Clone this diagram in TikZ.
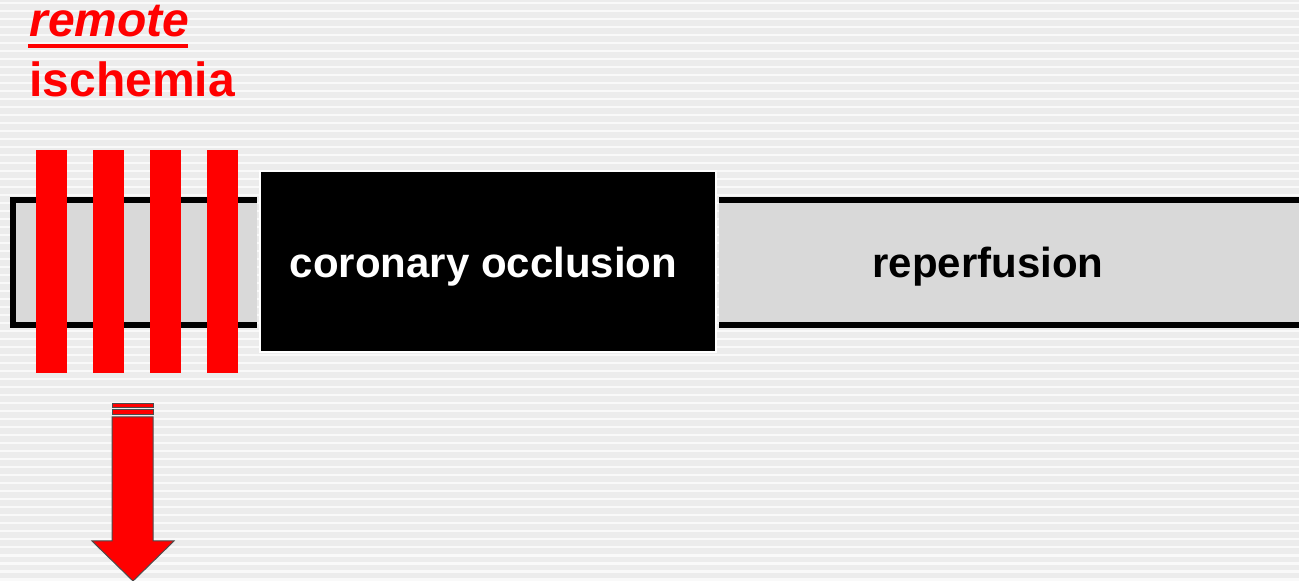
\documentclass[tikz,border=0pt]{standalone}
\usepackage{fontspec}
\setmainfont{Liberation Sans}
\definecolor{bgbase}{RGB}{236,236,236}
\definecolor{bgline}{RGB}{249,249,249}
\definecolor{bargray}{RGB}{217,217,217}
\definecolor{pulse}{RGB}{255,0,0}
\tikzset{
  timeline/.style={line width=3pt, draw=black},
  pulsebar/.style={fill=pulse, draw=none},
  redlabel/.style={text=pulse, font=\fontsize{24}{28}\selectfont\bfseries, inner sep=0pt, anchor=base west},
  phaselabel/.style={font=\fontsize{21}{25}\selectfont\bfseries, inner sep=0pt, anchor=base},
  arrowpart/.style={fill=pulse, draw=black!70, line width=0.5pt}
}
\begin{document}
\begin{tikzpicture}[x=0.5pt,y=-0.5pt]
  % striped slide background
  \fill[bgbase] (0,0) rectangle (1299,581);
  \foreach \yy in {2,10,...,578} {
    \fill[bgline] (0,\yy) rectangle (1299,\yy+2.5);
  }
  \useasboundingbox (0,0) rectangle (1299,581);

  % heading
  \node[redlabel] (remote) at (29,37) {\itshape remote};
  \fill[pulse] (28,44) rectangle (188,48.5);
  \node[redlabel] (ischemia) at (29,97) {ischemia};

  % timeline bar before the occlusion
  \fill[bargray] (13,200) rectangle (257,325);
  \draw[timeline] (257,200) -- (13,200) -- (13,325) -- (257,325);

  % timeline bar after the occlusion (reperfusion)
  \fill[bargray] (719,200) rectangle (1299,325);
  \draw[timeline] (719,200) -- (1299,200);
  \draw[timeline] (719,325) -- (1299,325);
  \node[phaselabel] (reperf) at (988,278) {reperfusion};

  % occlusion block
  \draw[fill=black, draw=white, line width=1pt] (260,171) rectangle (716,352);
  \node[phaselabel, text=white] (occl) at (483.5,278) {coronary occlusion};

  % four cycles of remote ischemia
  \foreach \xx in {36,93,150,207} {
    \fill[pulsebar] (\xx,150) rectangle (\xx+31,373);
  }

  % striped down arrow
  \draw[arrowpart] (112,404) rectangle (153,407.5);
  \draw[arrowpart] (112,409.5) rectangle (153,415);
  \draw[arrowpart] (112,417) -- (153,417) -- (153,541) -- (174,541)
        -- (133,581) -- (92,541) -- (112,541) -- cycle;
\end{tikzpicture}
\end{document}
